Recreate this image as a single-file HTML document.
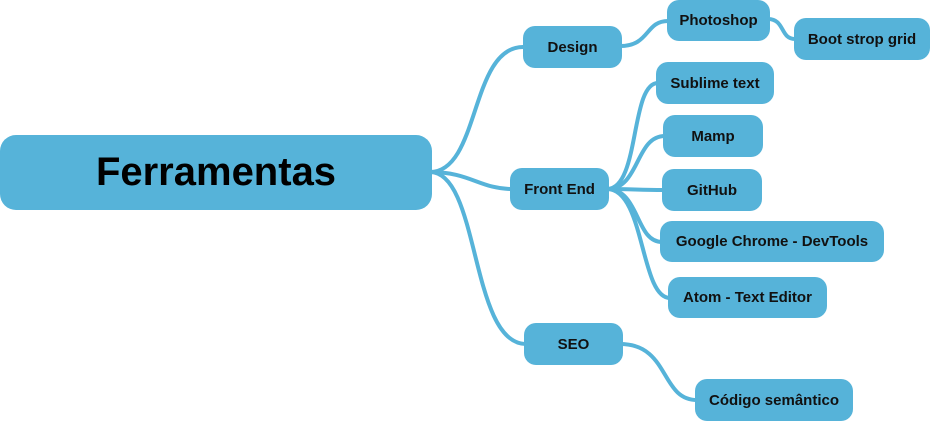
<!DOCTYPE html>
<html><head><meta charset="utf-8"><style>
body{margin:0;width:930px;height:421px;background:#fff;overflow:hidden;position:relative;font-family:"Liberation Sans",sans-serif}
.n{position:absolute;background:#56b3d9;border-radius:12px;display:flex;align-items:center;justify-content:center;font-weight:bold;font-size:15px;color:#111;white-space:nowrap}
svg{position:absolute;left:0;top:0}
</style></head><body>
<svg width="930" height="421"><g fill="none" stroke="#56b3d9" stroke-width="4" stroke-linecap="round">
<path d="M430 172 C480 172 470 47 523 47"/>
<path d="M430 172 C470 172 480 189 512 189"/>
<path d="M430 172 C480 172 470 344 526 344"/>
<path d="M620 46 C650 46 645 21 668 21"/>
<path d="M768 19 C785 19 780 39 795 39"/>
<path d="M607 189 C640 189 630 83 658 83"/>
<path d="M607 189 C640 189 635 136 665 136"/>
<path d="M607 189 C630 189 640 190 663 190"/>
<path d="M607 189 C640 189 635 242 662 242"/>
<path d="M607 189 C645 189 640 298 670 298"/>
<path d="M620 344 C670 344 660 400 697 400"/>
</g></svg>
<div class="n" style="left:0;top:135px;width:432px;height:75px;border-radius:16px;font-size:40px;color:#000">Ferramentas</div>
<div class="n" style="left:523px;top:26px;width:99px;height:42px">Design</div>
<div class="n" style="left:667px;top:0;width:103px;height:41px">Photoshop</div>
<div class="n" style="left:794px;top:18px;width:136px;height:42px">Boot strop grid</div>
<div class="n" style="left:656px;top:62px;width:118px;height:42px">Sublime text</div>
<div class="n" style="left:663px;top:115px;width:100px;height:42px">Mamp</div>
<div class="n" style="left:662px;top:169px;width:100px;height:42px">GitHub</div>
<div class="n" style="left:510px;top:168px;width:99px;height:42px">Front End</div>
<div class="n" style="left:660px;top:221px;width:224px;height:41px">Google Chrome - DevTools</div>
<div class="n" style="left:668px;top:277px;width:159px;height:41px">Atom - Text Editor</div>
<div class="n" style="left:524px;top:323px;width:99px;height:42px">SEO</div>
<div class="n" style="left:695px;top:379px;width:158px;height:42px">Código semântico</div>
</body></html>
